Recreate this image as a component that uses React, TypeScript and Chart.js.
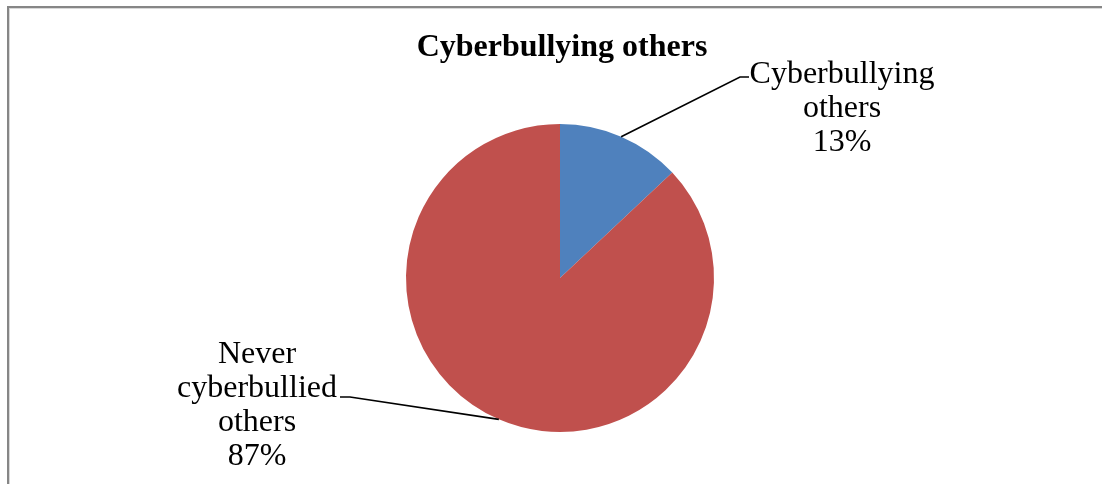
import React, { useEffect, useRef } from "react";
import { Chart, registerables } from "chart.js";

Chart.register(...registerables);

// ---- data ----
const TITLE = "Cyberbullying others";
const categories = ["Cyberbullying\nothers", "Never\ncyberbullied\nothers"];
const values = [13, 87];
const colors = ["#4F81BD", "#C0504D"];

// ---- layout (relative to pie centre) ----
const W = 1102;
const H = 484;
const labelLayout = [
  { elbow: [180, -201], end: [189, -201], textX: 282, firstBaseline: -195 },
  { elbow: [-210, 119], end: [-220, 119], textX: -303, firstBaseline: 85 },
];
const LINE_H = 34;
const LABEL_FONT = "32px 'Liberation Serif', 'Times New Roman', serif";
const TITLE_FONT = "bold 32px 'Liberation Serif', 'Times New Roman', serif";

const overlay = {
  id: "overlay",
  beforeDraw(chart: any) {
    const ctx = chart.ctx;
    ctx.save();
    ctx.fillStyle = "#ffffff";
    ctx.fillRect(0, 0, W, H);
    ctx.fillStyle = "#868686";
    ctx.fillRect(7, 6, W - 7, 2);
    ctx.fillRect(7, 6, 2, H - 6);
    ctx.fillStyle = "#d8d8d8";
    ctx.fillRect(9, 8, W - 9, 1);
    ctx.fillRect(9, 8, 1, H - 8);
    ctx.restore();
  },
  afterDraw(chart: any) {
    const ctx = chart.ctx;
    const meta = chart.getDatasetMeta(0);
    const arcs = meta.data;
    if (!arcs.length) return;
    const cx = arcs[0].x;
    const cy = arcs[0].y;
    const total = values.reduce((a, b) => a + b, 0);
    ctx.save();
    // title
    ctx.fillStyle = "#000";
    ctx.font = TITLE_FONT;
    ctx.textAlign = "center";
    ctx.textBaseline = "alphabetic";
    ctx.fillText(TITLE, cx + 2, cy - 222);
    // labels
    arcs.forEach((arc: any, i: number) => {
      const mid = (arc.startAngle + arc.endAngle) / 2;
      const r = arc.outerRadius;
      const px = cx + Math.cos(mid) * r;
      const py = cy + Math.sin(mid) * r;
      const L = labelLayout[i];
      ctx.strokeStyle = "#000";
      ctx.lineWidth = 1.6;
      ctx.beginPath();
      ctx.moveTo(px, py);
      ctx.lineTo(cx + L.elbow[0], cy + L.elbow[1]);
      ctx.lineTo(cx + L.end[0], cy + L.end[1]);
      ctx.stroke();
      const lines = categories[i].split("\n");
      lines.push(Math.round((values[i] / total) * 100) + "%");
      ctx.font = LABEL_FONT;
      ctx.fillStyle = "#000";
      ctx.textAlign = "center";
      lines.forEach((t, k) => {
        ctx.fillText(t, cx + L.textX, cy + L.firstBaseline + k * LINE_H);
      });
    });
    ctx.restore();
  },
};

export default function App() {
  const ref = useRef<HTMLCanvasElement>(null);
  useEffect(() => {
    if (!ref.current) return;
    const chart = new Chart(ref.current, {
      type: "pie",
      data: {
        labels: categories.map((c) => c.replace(/\n/g, " ")),
        datasets: [
          {
            data: values,
            backgroundColor: colors,
            borderWidth: 0,
          },
        ],
      },
      options: {
        responsive: false,
        animation: false,
        events: [],
        layout: { padding: { left: 406, right: 388, top: 124, bottom: 52 } },
        plugins: {
          legend: { display: false },
          title: { display: false },
          tooltip: { enabled: false },
        },
      },
      plugins: [overlay],
    });
    return () => chart.destroy();
  }, []);
  return (
    <canvas
      ref={ref}
      width={W}
      height={H}
      style={{ position: "absolute", left: 0, top: 0, width: W, height: H, display: "block" }}
    />
  );
}
